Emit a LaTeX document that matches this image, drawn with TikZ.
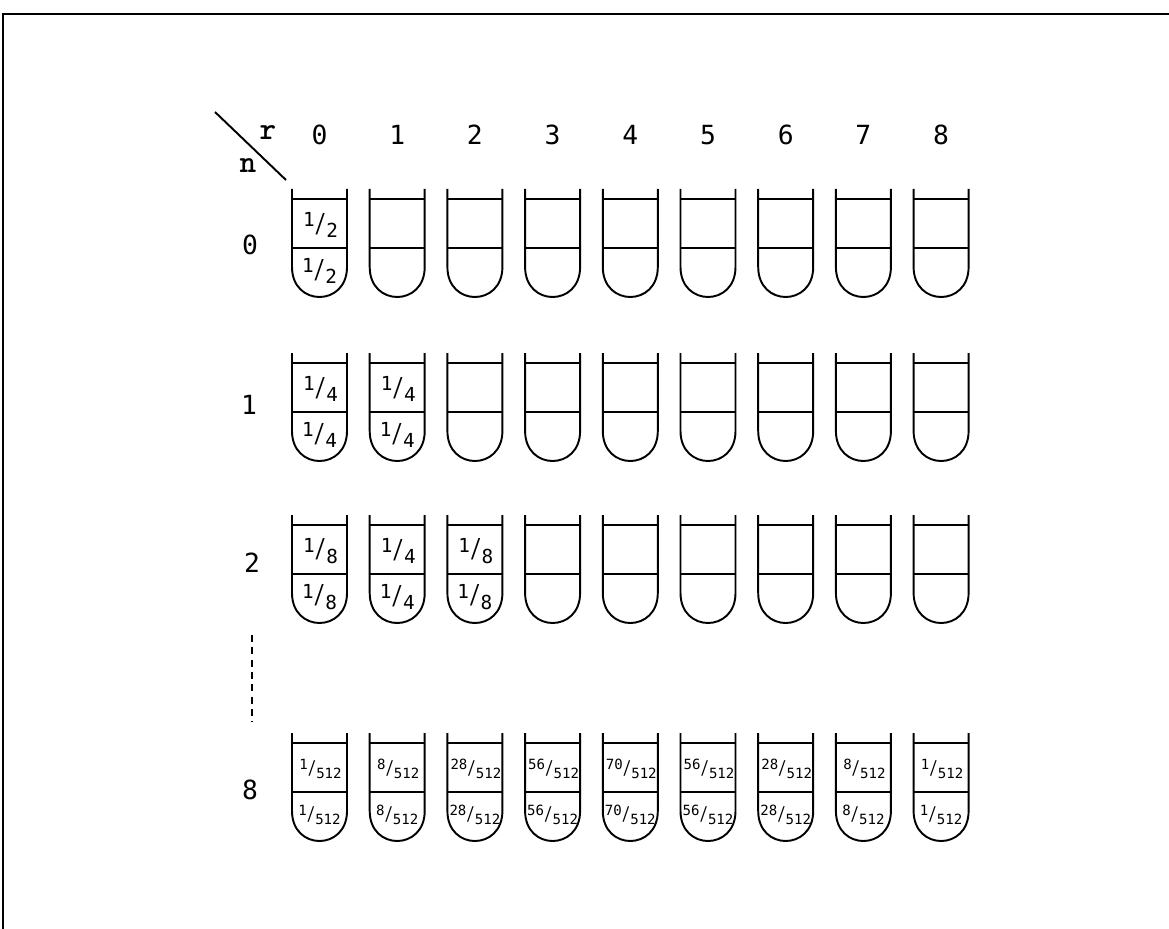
\documentclass[tikz,border=0pt]{standalone}
\usepackage{graphicx}
\usepackage{fontspec}
\newfontfamily\lett{DejaVu Sans Mono}
\newcommand{\frc}[2]{\raisebox{0.55ex}{#1}\scalebox{1}[1.35]{/}\raisebox{-0.55ex}{#2}}
\tikzset{
  tubeline/.style={line width=1.1pt, line join=round},
  tube/.pic={
    \draw[tubeline] (-27.5,-10) -- (-27.5,68) .. controls (-27.5,108) and (27.5,108) .. (27.5,68) -- (27.5,-10);
    \draw[tubeline] (-27.5,0) -- (27.5,0);
    \draw[tubeline] (-27.5,49) -- (27.5,49);
  },
  hdr/.style={font=\lett\fontsize{15}{15}\selectfont, inner sep=0pt},
  rn/.style={font=\ttfamily\bfseries\fontsize{18}{18}\selectfont, inner sep=0pt},
  fsmall/.style={font=\lett\fontsize{11}{11}\selectfont, inner sep=0pt},
  fbig/.style={font=\lett\fontsize{8}{8}\selectfont, inner sep=0pt}
}
\begin{document}
\begin{tikzpicture}[x=0.02cm,y=-0.02cm]
\useasboundingbox (0,0) rectangle (1169,929);
% frame
\coordinate (fbl) at (3,929);
\coordinate (ftl) at (3,14);
\coordinate (ftr) at (1169,14);
\draw[line width=1.6pt] (fbl) -- (ftl) -- (ftr);
% header corner
\coordinate (d1) at (215,112);
\coordinate (d2) at (286,180);
\draw[line width=1.1pt] (d1) -- (d2);
\node[rn] (rlab) at (268,133) {r};
\node[rn] (nlab) at (248,166) {n};
% column labels
\foreach \c in {0,...,8}
  \node[hdr] (col\c) at ({319.5+77.7*\c},135) {\c};
% row labels
\node[hdr] (row0) at (250,245) {0};
\node[hdr] (row1) at (249,405) {1};
\node[hdr] (row2) at (252,563) {2};
\node[hdr] (row8) at (250,790) {8};
\coordinate (dots1) at (252,635);
\coordinate (dots2) at (252,722);
\draw[line width=1.3pt, dash pattern=on 4pt off 3pt] (dots1) -- (dots2);
% tubes
\foreach \r/\y in {0/199,1/363,2/525,8/743}
  \foreach \c in {0,...,8}
    \pic (tube-\r-\c) at ({319.5+77.7*\c},\y) {tube};
% fractions
\node[fsmall] (f00u) at (320.5,225) {\frc{1}{2}};
\node[fsmall] (f00l) at (319.5,271) {\frc{1}{2}};
\foreach \c/\d in {0/4,1/4}{
  \node[fsmall] (f1\c u) at ({320.5+77.7*\c},389) {\frc{1}{\d}};
  \node[fsmall] (f1\c l) at ({319.5+77.7*\c},435) {\frc{1}{\d}};
}
\foreach \c/\d in {0/8,1/4,2/8}{
  \node[fsmall] (f2\c u) at ({320.5+77.7*\c},551) {\frc{1}{\d}};
  \node[fsmall] (f2\c l) at ({319.5+77.7*\c},597) {\frc{1}{\d}};
}
\foreach \c/\n in {0/1,1/8,2/28,3/56,4/70,5/56,6/28,7/8,8/1}{
  \node[fbig] (f8\c u) at ({320.5+77.7*\c},769) {\frc{\n}{512}};
  \node[fbig] (f8\c l) at ({319.5+77.7*\c},815) {\frc{\n}{512}};
}
\end{tikzpicture}
\end{document}
